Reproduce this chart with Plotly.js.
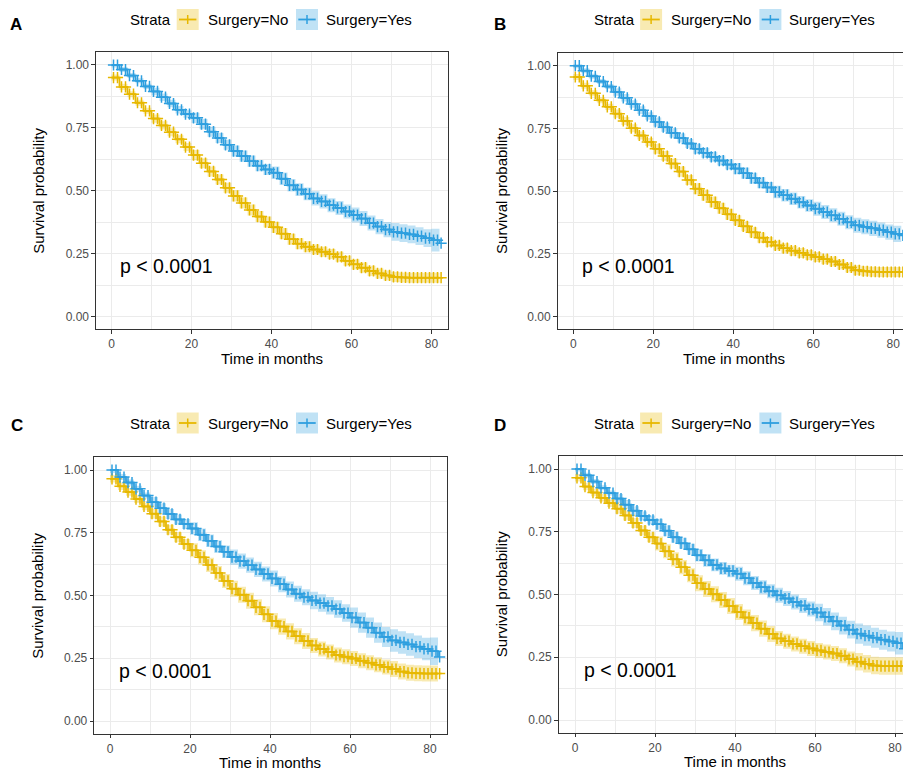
<!DOCTYPE html>
<html>
<head>
<meta charset="utf-8">
<script src="https://cdn.plot.ly/plotly-3.0.1.min.js"></script>
<style>
  html, body { margin: 0; padding: 0; background: #ffffff; }
  #chart { width: 903px; height: 770px; }
</style>
</head>
<body>
<div id="chart"></div>
<script>
// ---- data ---------------------------------------------------------------
const months = [0, 2, 4, 6, 8, 10, 12, 14, 16, 18, 20, 22, 24, 26, 28, 30, 32, 34, 36, 38, 40,
                42, 44, 46, 48, 50, 52, 54, 56, 58, 60, 62, 64, 66, 68, 70, 72, 74, 76, 78, 80, 82];

const panelLetters = ['A', 'B', 'C', 'D'];
const strataNames = ['Surgery=No', 'Surgery=Yes'];
const legendTitle = 'Strata';
const pValueText = 'p &lt; 0.0001';
const xTitle = 'Time in months';
const yTitle = 'Survival probability';

const xTicks = [0, 20, 40, 60, 80];
const xMinor = [10, 30, 50, 70];
const yTicks = [0, 0.25, 0.5, 0.75, 1];
const yTickText = ['0.00', '0.25', '0.50', '0.75', '1.00'];
const yMinor = [0.125, 0.375, 0.625, 0.875];

// Kaplan-Meier survival at each step, panel A
const survA_no  = [0.950, 0.913, 0.884, 0.850, 0.818, 0.787, 0.760, 0.733, 0.705, 0.674, 0.642,
                   0.610, 0.577, 0.545, 0.512, 0.480, 0.452, 0.424, 0.398, 0.376, 0.355, 0.330,
                   0.308, 0.290, 0.278, 0.267, 0.258, 0.249, 0.238, 0.222, 0.208, 0.195, 0.182,
                   0.172, 0.164, 0.158, 0.156, 0.155, 0.155, 0.155, 0.155, 0.155];
const survA_yes = [1.000, 0.982, 0.958, 0.937, 0.915, 0.895, 0.872, 0.847, 0.822, 0.805, 0.790,
                   0.765, 0.735, 0.710, 0.683, 0.658, 0.638, 0.618, 0.600, 0.585, 0.572, 0.548,
                   0.522, 0.505, 0.488, 0.470, 0.458, 0.443, 0.432, 0.418, 0.404, 0.390, 0.372,
                   0.358, 0.346, 0.337, 0.332, 0.327, 0.320, 0.312, 0.304, 0.292];
// panel B
const survB_no  = [0.955, 0.920, 0.890, 0.862, 0.836, 0.809, 0.780, 0.751, 0.722, 0.696, 0.669,
                   0.640, 0.610, 0.578, 0.545, 0.510, 0.484, 0.457, 0.432, 0.408, 0.384, 0.360,
                   0.336, 0.315, 0.298, 0.284, 0.273, 0.263, 0.254, 0.246, 0.238, 0.229, 0.220,
                   0.208, 0.196, 0.185, 0.181, 0.179, 0.178, 0.178, 0.178, 0.178];
const survB_yes = [1.000, 0.980, 0.958, 0.937, 0.917, 0.895, 0.872, 0.847, 0.823, 0.800, 0.776,
                   0.755, 0.732, 0.712, 0.690, 0.669, 0.653, 0.637, 0.622, 0.606, 0.590, 0.572,
                   0.552, 0.534, 0.515, 0.497, 0.484, 0.470, 0.456, 0.443, 0.430, 0.417, 0.404,
                   0.390, 0.376, 0.364, 0.358, 0.352, 0.345, 0.337, 0.330, 0.324];
// panel C
const survC_no  = [0.965, 0.935, 0.912, 0.884, 0.855, 0.826, 0.795, 0.762, 0.732, 0.705, 0.680,
                   0.652, 0.622, 0.590, 0.558, 0.527, 0.503, 0.479, 0.453, 0.425, 0.398, 0.376,
                   0.357, 0.338, 0.319, 0.301, 0.287, 0.275, 0.263, 0.256, 0.249, 0.240, 0.232,
                   0.224, 0.215, 0.207, 0.197, 0.192, 0.190, 0.189, 0.189, 0.189];
const survC_yes = [1.000, 0.972, 0.950, 0.925, 0.898, 0.872, 0.848, 0.825, 0.803, 0.785, 0.767,
                   0.742, 0.718, 0.695, 0.674, 0.653, 0.637, 0.621, 0.604, 0.586, 0.568, 0.545,
                   0.524, 0.507, 0.493, 0.480, 0.470, 0.459, 0.446, 0.430, 0.412, 0.392, 0.372,
                   0.352, 0.335, 0.321, 0.313, 0.305, 0.296, 0.287, 0.278, 0.255];
// panel D
const survD_no  = [0.965, 0.930, 0.906, 0.885, 0.864, 0.842, 0.815, 0.785, 0.755, 0.728, 0.703,
                   0.672, 0.640, 0.609, 0.577, 0.545, 0.522, 0.501, 0.478, 0.454, 0.430, 0.408,
                   0.386, 0.364, 0.343, 0.325, 0.314, 0.303, 0.294, 0.285, 0.277, 0.271, 0.265,
                   0.256, 0.243, 0.232, 0.224, 0.217, 0.215, 0.215, 0.215, 0.215];
const survD_yes = [1.000, 0.975, 0.950, 0.925, 0.904, 0.882, 0.858, 0.834, 0.813, 0.797, 0.780,
                   0.754, 0.728, 0.704, 0.680, 0.656, 0.636, 0.618, 0.604, 0.594, 0.583, 0.565,
                   0.546, 0.529, 0.513, 0.497, 0.484, 0.470, 0.456, 0.442, 0.428, 0.411, 0.393,
                   0.376, 0.360, 0.344, 0.336, 0.328, 0.320, 0.313, 0.306, 0.284];

// half-width of the 95% confidence band, one value per 10-month span (0-9, 10-19, ... 80+)
const ciA_no  = [0.012, 0.016, 0.020, 0.022, 0.022, 0.020, 0.020, 0.020, 0.020];
const ciA_yes = [0.010, 0.015, 0.020, 0.022, 0.025, 0.028, 0.030, 0.035, 0.045];
const ciB_no  = [0.012, 0.016, 0.020, 0.022, 0.020, 0.020, 0.020, 0.020, 0.020];
const ciB_yes = [0.010, 0.015, 0.018, 0.020, 0.022, 0.025, 0.028, 0.030, 0.032];
const ciC_no  = [0.015, 0.020, 0.028, 0.032, 0.032, 0.030, 0.030, 0.032, 0.032];
const ciC_yes = [0.012, 0.020, 0.025, 0.030, 0.032, 0.035, 0.040, 0.045, 0.055];
const ciD_no  = [0.015, 0.020, 0.028, 0.032, 0.032, 0.030, 0.030, 0.035, 0.035];
const ciD_yes = [0.010, 0.018, 0.022, 0.025, 0.028, 0.030, 0.035, 0.040, 0.045];

const curves = [
  [survA_no, survA_yes, ciA_no, ciA_yes],
  [survB_no, survB_yes, ciB_no, ciB_yes],
  [survC_no, survC_yes, ciC_no, ciC_yes],
  [survD_no, survD_yes, ciD_no, ciD_yes]
];

// ---- styling / geometry -------------------------------------------------
const W = 903, H = 770;
const FONT = '"Liberation Sans", Arial, Helvetica, sans-serif';
const lineColors = ['#E7B800', '#2E9FDF'];
const bandColors = ['rgba(231,184,0,0.3)', 'rgba(46,159,223,0.3)'];
const GRID = '#EBEBEB';

// plot areas in pixels (top/bottom from the top edge)
const panels = [
  { left: 96.0,  right: 447.7, top: 52.4,  bottom: 329.3, xr: [-3.875, 84.05], openRight: false, legLeft: 129.3, legY: 19.5, letX: 16.3,  letY: 24.5 },
  { left: 557.7, right: 903,   top: 53.15, bottom: 329.25, xr: [-3.9, 82.43],  openRight: true,  legLeft: 592.7, legY: 19.5, letX: 499.5, letY: 24.5 },
  { left: 94.3,  right: 446.7, top: 457.45, bottom: 733.55, xr: [-3.925, 84.175], openRight: false, legLeft: 129.3, legY: 423, letX: 16.5, letY: 426 },
  { left: 558.7, right: 903,   top: 456.45, bottom: 732.55, xr: [-4.075, 82.0], openRight: true,  legLeft: 592.7, legY: 423, letX: 499.5, letY: 426 }
];

const fx = px => px / W;
const fy = py => 1 - py / H;

const traces = [];
const layout = {
  width: W, height: H,
  margin: { l: 0, r: 0, t: 0, b: 0, pad: 0 },
  paper_bgcolor: '#ffffff',
  plot_bgcolor: '#ffffff',
  showlegend: false,
  font: { family: FONT, color: '#000000' },
  annotations: [],
  shapes: []
};

function band(surv, ci, sign) {
  return surv.map((s, i) => {
    const hw = ci[Math.min(Math.floor(months[i] / 10), ci.length - 1)];
    return Math.max(0, Math.min(1, s + sign * hw));
  });
}

panels.forEach((g, p) => {
  const sfx = p === 0 ? '' : String(p + 1);
  const xa = 'x' + sfx, ya = 'y' + sfx;
  const [sNo, sYes, cNo, cYes] = curves[p];
  const survs = [sNo, sYes];
  const cis = [cNo, cYes];

  // survival step lines
  survs.forEach((s, k) => {
    traces.push({
      type: 'scatter', mode: 'lines', x: months, y: s, xaxis: xa, yaxis: ya,
      line: { shape: 'hv', color: lineColors[k], width: 1.8 }, hoverinfo: 'skip', name: strataNames[k]
    });
  });
  // confidence ribbons
  survs.forEach((s, k) => {
    traces.push({
      type: 'scatter', mode: 'lines', x: months, y: band(s, cis[k], -1), xaxis: xa, yaxis: ya,
      line: { shape: 'hv', width: 0, color: bandColors[k] }, hoverinfo: 'skip'
    });
    traces.push({
      type: 'scatter', mode: 'lines', x: months, y: band(s, cis[k], 1), xaxis: xa, yaxis: ya,
      line: { shape: 'hv', width: 0, color: bandColors[k] }, fill: 'tonexty', fillcolor: bandColors[k], hoverinfo: 'skip'
    });
  });
  // censoring marks along each step
  survs.forEach((s, k) => {
    const cx = [], cy = [];
    months.forEach((t, i) => {
      if (i < months.length - 1) {
        cx.push(t + 0.5, t + 1.5); cy.push(s[i], s[i]);
      } else {
        cx.push(t + 0.4); cy.push(s[i]);
      }
    });
    traces.push({
      type: 'scatter', mode: 'markers', x: cx, y: cy, xaxis: xa, yaxis: ya, cliponaxis: true,
      marker: { symbol: 'cross-thin', size: 8, color: lineColors[k], line: { color: lineColors[k], width: 1.5 } },
      hoverinfo: 'skip'
    });
  });

  const tickfont = { family: FONT, size: 12, color: '#4D4D4D' };
  layout['xaxis' + sfx] = {
    domain: [fx(g.left), fx(g.right)], range: g.xr, anchor: ya,
    tickmode: 'array', tickvals: xTicks, ticks: 'outside', ticklen: 3.5, tickwidth: 1, tickcolor: '#333333',
    tickfont: tickfont,
    showgrid: true, gridcolor: GRID, gridwidth: 1,
    minor: { tickmode: 'array', tickvals: xMinor, showgrid: true, gridcolor: GRID, gridwidth: 1, ticks: '' },
    showline: true, mirror: true, linecolor: '#333333', linewidth: 1.1,
    zeroline: false, fixedrange: true
  };
  layout['yaxis' + sfx] = {
    domain: [fy(g.bottom), fy(g.top)], range: [-0.05, 1.05], anchor: xa,
    tickmode: 'array', tickvals: yTicks, ticktext: yTickText, ticks: 'outside', ticklen: 3.5, tickwidth: 1, tickcolor: '#333333',
    tickfont: tickfont,
    showgrid: true, gridcolor: GRID, gridwidth: 1,
    minor: { tickmode: 'array', tickvals: yMinor, showgrid: true, gridcolor: GRID, gridwidth: 1, ticks: '' },
    showline: true, mirror: !g.openRight, linecolor: '#333333', linewidth: 1.1,
    zeroline: false, fixedrange: true
  };

  // panel letter
  layout.annotations.push({
    xref: 'paper', yref: 'paper', x: fx(g.letX), y: fy(g.letY), xanchor: 'center', yanchor: 'middle',
    text: '<b>' + panelLetters[p] + '</b>', showarrow: false, font: { family: FONT, size: 17, color: '#000000' }
  });
  // p-value
  layout.annotations.push({
    xref: xa, yref: ya, x: 1.7, y: 0.2, xanchor: 'left', yanchor: 'middle',
    text: pValueText, showarrow: false, font: { family: FONT, size: 19.5, color: '#000000' }
  });
  // axis titles
  const panelMid = g.left + 175.9;
  layout.annotations.push({
    xref: 'paper', yref: 'paper', x: fx(panelMid), y: fy(g.bottom + 29), xanchor: 'center', yanchor: 'middle',
    text: xTitle, showarrow: false, font: { family: FONT, size: 15, color: '#000000' }
  });
  layout.annotations.push({
    xref: 'paper', yref: 'paper', x: fx(g.left - 57), y: fy((g.top + g.bottom) / 2), xanchor: 'center', yanchor: 'middle',
    text: yTitle, textangle: -90, showarrow: false, font: { family: FONT, size: 15, color: '#000000' }
  });

  // legend: title, keys (ribbon fill + line + censor cross) and labels
  const L = g.legLeft, cy = g.legY;
  layout.annotations.push({
    xref: 'paper', yref: 'paper', x: fx(L - 1), y: fy(cy), xanchor: 'left', yanchor: 'middle',
    text: legendTitle, showarrow: false, font: { family: FONT, size: 15, color: '#000000' }
  });
  const keyLefts = [L + 47.4, L + 166.7];
  const textLefts = [L + 77.4, L + 195.7];
  keyLefts.forEach((kl, k) => {
    const kr = kl + 22;
    layout.shapes.push({ type: 'rect', xref: 'paper', yref: 'paper', x0: fx(kl), x1: fx(kr), y0: fy(cy + 10.5), y1: fy(cy - 10.5),
      fillcolor: bandColors[k], line: { width: 0 } });
    layout.shapes.push({ type: 'line', xref: 'paper', yref: 'paper', x0: fx(kl + 2.3), x1: fx(kr - 2.3), y0: fy(cy), y1: fy(cy),
      line: { color: lineColors[k], width: 1.8 } });
    layout.shapes.push({ type: 'line', xref: 'paper', yref: 'paper', x0: fx(kl + 11), x1: fx(kl + 11), y0: fy(cy - 4.5), y1: fy(cy + 4.5),
      line: { color: lineColors[k], width: 1.5 } });
    layout.annotations.push({
      xref: 'paper', yref: 'paper', x: fx(textLefts[k] - 1), y: fy(cy), xanchor: 'left', yanchor: 'middle',
      text: strataNames[k], showarrow: false, font: { family: FONT, size: 15, color: '#000000' }
    });
  });
});

Plotly.newPlot('chart', traces, layout, { staticPlot: true, displayModeBar: false });
</script>
</body>
</html>
